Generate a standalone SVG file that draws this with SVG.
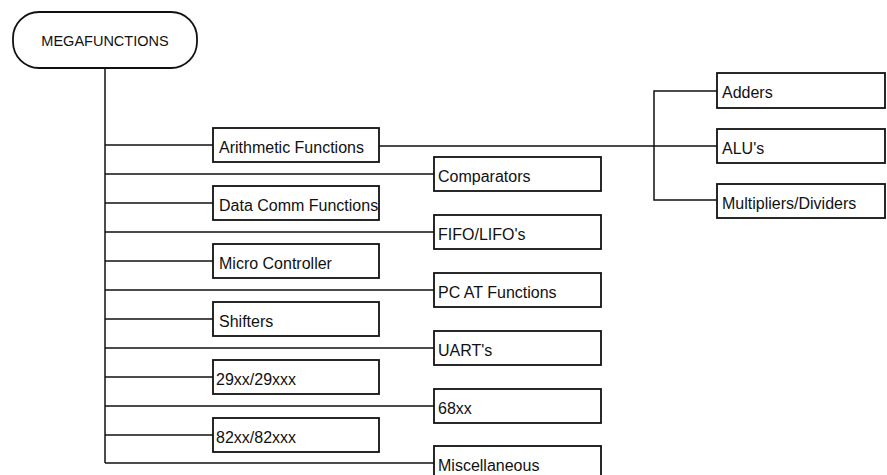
<svg xmlns="http://www.w3.org/2000/svg" width="887" height="475" viewBox="0 0 887 475">
<style>
.box{fill:#fff;stroke:#111;stroke-width:1.8}
.ln{fill:none;stroke:#111;stroke-width:1.5}
text{font-family:"Liberation Sans",Arial,sans-serif;font-size:16px;fill:#111}
.root{font-size:14.5px}
</style>
<rect width="887" height="475" fill="#fff"/>
<g id="connectors">
<path class="ln" d="M105,68 V463"/>
<path class="ln" d="M105,145 H213 M379,146 H717"/>
<path class="ln" d="M105,203 H213 M105,261 H213 M105,319 H213 M105,377 H213 M105,435 H213"/>
<path class="ln" d="M105,174 H434 M105,232 H434 M105,290 H434 M105,348 H434 M105,406 H434 M105,463 H434"/>
<path class="ln" d="M717,91 H654 V200 H717"/>
</g>
<g id="n-mega"><rect class="box" x="13" y="12" width="184" height="56" rx="26" ry="26"/><text class="root" x="105" y="46" text-anchor="middle">MEGAFUNCTIONS</text></g>
<g id="n-arith"><rect class="box" x="213" y="128" width="166" height="34"/><text x="219" y="153">Arithmetic Functions</text></g>
<g id="n-datacomm"><rect class="box" x="213" y="186" width="166" height="34"/><text x="219" y="211">Data Comm Functions</text></g>
<g id="n-micro"><rect class="box" x="213" y="244" width="166" height="34"/><text x="219" y="269">Micro Controller</text></g>
<g id="n-shifters"><rect class="box" x="213" y="302" width="166" height="34"/><text x="219" y="327">Shifters</text></g>
<g id="n-29xx"><rect class="box" x="213" y="360" width="166" height="34"/><text x="216" y="385">29xx/29xxx</text></g>
<g id="n-82xx"><rect class="box" x="213" y="418" width="166" height="34"/><text x="216" y="443">82xx/82xxx</text></g>
<g id="n-comp"><rect class="box" x="434" y="157" width="167" height="34"/><text x="438" y="182">Comparators</text></g>
<g id="n-fifo"><rect class="box" x="434" y="215" width="167" height="34"/><text x="438" y="240">FIFO/LIFO's</text></g>
<g id="n-pcat"><rect class="box" x="434" y="273" width="167" height="34"/><text x="438" y="298">PC AT Functions</text></g>
<g id="n-uart"><rect class="box" x="434" y="331" width="167" height="34"/><text x="438" y="356">UART's</text></g>
<g id="n-68xx"><rect class="box" x="434" y="389" width="167" height="34"/><text x="438" y="414">68xx</text></g>
<g id="n-misc"><rect class="box" x="434" y="446" width="167" height="34"/><text x="438" y="471">Miscellaneous</text></g>
<g id="n-adders"><rect class="box" x="717" y="73" width="168" height="35"/><text x="722" y="98">Adders</text></g>
<g id="n-alu"><rect class="box" x="717" y="129" width="168" height="34"/><text x="722" y="154">ALU's</text></g>
<g id="n-mult"><rect class="box" x="717" y="184" width="168" height="34"/><text x="722" y="209">Multipliers/Dividers</text></g>
</svg>
